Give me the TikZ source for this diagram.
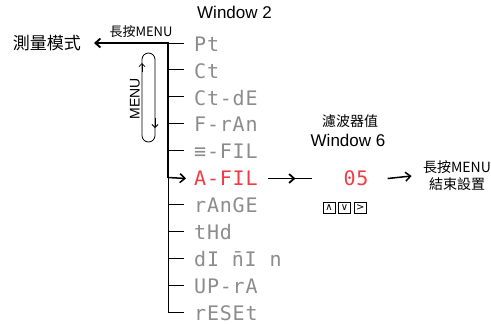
\documentclass[tikz,border=0pt]{standalone}
\usepackage{fontspec}
\setmainfont{Liberation Sans}
\newfontfamily\cjk{Noto Sans CJK TC}
\newfontfamily\segfont{DejaVu Sans Mono}[LetterSpace=4]
\newfontfamily\symfont{DejaVu Sans}
\usetikzlibrary{
  positioning,
  arrows.meta,
  decorations.markings
}
\definecolor{seggray}{HTML}{8C8C8C}
\definecolor{segred}{HTML}{F03C46}

\begin{document}
\begin{tikzpicture}[
  x=1pt, y=-1pt,
  seg/.style={
    anchor=west,
    inner sep=0pt,
    text=seggray,
    font=\segfont\fontsize{20}{20}\selectfont
  },
  segsel/.style={
    seg,
    text=segred
  },
  tick/.style={line width=1pt},
  trunk/.style={line width=1.9pt},
  keybox/.style={
    draw,
    line width=0.6pt,
    minimum width=12pt,
    minimum height=11.5pt,
    inner sep=0pt,
    font=\symfont\fontsize{10}{10}\selectfont
  },
  >={Straight Barb[length=5pt,width=9pt]}
]

\useasboundingbox (0,0) rectangle (491,325);

% Window 2 menu list
\node (win2) at (234.5,12) {\fontsize{17}{17}\selectfont Window 2};

\foreach \i/\t in {1/Pt, 2/Ct, 3/Ct-dE, 4/F-rAn, 5/≡-FIL, 7/rAnGE,
                   8/tHd, 9/dI n̄I n, 10/UP-rA, 11/rESEt} {
  \node[seg] (r\i) at (194,{44+(\i-1)*26.9}) {\t};
  \draw[tick] (168,{43+(\i-1)*26.9}) -- +(16,0);
}
\node[segsel] (r6) at (194,178.5) {A-FIL};

\coordinate (top) at (168,43);
\coordinate (sel) at (168,177.5);
\coordinate (bot) at (168,312);

% leaving the menu
\node[anchor=east, inner sep=0pt, font=\cjk\fontsize{17}{17}\selectfont]
  (meas) at (81,43) {測量模式};
\draw[trunk, ->, shorten >=13pt, line join=miter] (sel) -- (top) -- (meas.east);
\node[font=\cjk\fontsize{13}{13}\selectfont] (hold1) at (141,32) {長按MENU};
\draw[tick] (sel) -- (bot);
\draw[line width=1.5pt, ->] (sel) -- ([xshift=-8pt]r6.west);

% MENU loop
\node[rotate=90, font=\fontsize{14}{14}\selectfont] (menu) at (135,98.5) {MENU};
\draw[line width=0.8pt] (142,135.5) -- (142,59.5)
  arc[start angle=180, end angle=360, radius=6.5] -- (155,135.5)
  arc[start angle=0, end angle=180, radius=6.5] -- cycle;
\draw[line width=0.8pt, -{Straight Barb[length=3pt,width=6pt]}] (142,72) -- (142,63);
\draw[line width=0.8pt, -{Straight Barb[length=3pt,width=6pt]}] (155,118) -- (155,128);

% Window 6
\node[font=\cjk\fontsize{14}{14}\selectfont] (filt) at (350,121) {濾波器值};
\node (win6) at (348,140) {\fontsize{17}{17}\selectfont Window 6};
\node[text=segred, inner sep=0pt, font=\segfont\fontsize{20}{20}\selectfont]
  (val) at (356,178.5) {05};
\draw[line width=1.8pt, postaction={decorate},
  decoration={markings, mark=at position 0.62 with {\arrow{>}}}]
  ([xshift=10pt]r6.east) -- ([xshift=-31pt]val.west);

\node[keybox] (kup) at (329,208) {∧};
\node[keybox, right=3pt of kup] (kdn) {∨};
\node[keybox, right=3pt of kdn] (kfw) {>};

% end of setting
\node[align=center, font=\cjk\fontsize{14}{17}\selectfont] (done) at (457,176)
  {長按MENU\\結束設置};
\draw[line width=1.5pt, ->] ([xshift=19pt]val.east) -- ([xshift=-8pt]done.west);

\end{tikzpicture}
\end{document}
